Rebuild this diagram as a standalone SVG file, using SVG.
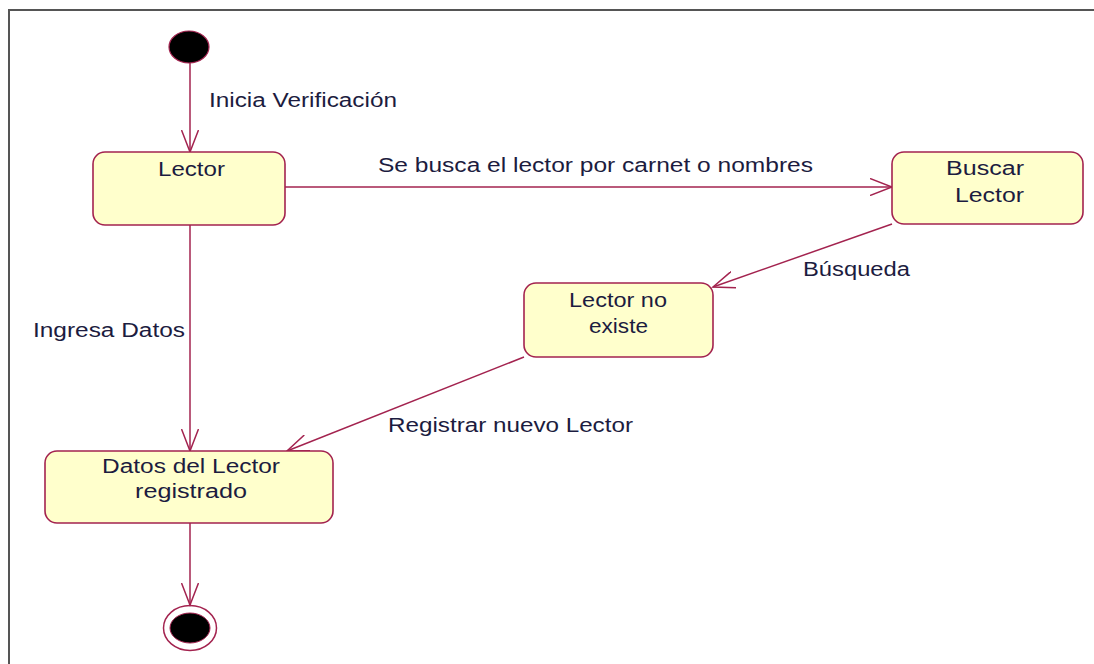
<svg xmlns="http://www.w3.org/2000/svg" width="1094" height="664" viewBox="0 0 1094 664">
<style>
.st{fill:#FFFFCC;stroke:#A3234F;stroke-width:1.6}
.t{font-family:"Liberation Sans",Arial,sans-serif;font-size:20px;fill:#1c1c40}
.c{fill:none;stroke:#A3234F;stroke-width:1.5;marker-end:url(#ar)}
</style>
<defs>
<marker id="ar" viewBox="0 0 24 18" refX="22" refY="9" markerWidth="24" markerHeight="18" markerUnits="userSpaceOnUse" orient="auto">
<path d="M0,0.5 L22,9 L0,17.5" fill="none" stroke="#A3234F" stroke-width="1.5"/>
</marker>
</defs>
<rect x="0" y="0" width="1094" height="664" fill="#ffffff"/>
<path d="M9,664 V10 H1094" fill="none" stroke="#555555" stroke-width="2"/>
<g id="connectors">
<line class="c" x1="190" y1="63" x2="190" y2="152"/>
<line class="c" x1="285" y1="187" x2="892" y2="187"/>
<line class="c" x1="892" y1="224" x2="713" y2="287"/>
<line class="c" x1="190" y1="225" x2="190" y2="451"/>
<line class="c" x1="524" y1="357" x2="287" y2="451"/>
<line class="c" x1="190" y1="523" x2="190" y2="605"/>
<text class="t" x="209" y="107" textLength="188" lengthAdjust="spacingAndGlyphs">Inicia Verificación</text>
<text class="t" x="378" y="172" textLength="435" lengthAdjust="spacingAndGlyphs">Se busca el lector por carnet o nombres</text>
<text class="t" x="803" y="276" textLength="107" lengthAdjust="spacingAndGlyphs">Búsqueda</text>
<text class="t" x="33" y="337" textLength="152" lengthAdjust="spacingAndGlyphs">Ingresa Datos</text>
<text class="t" x="388" y="432" textLength="245" lengthAdjust="spacingAndGlyphs">Registrar nuevo Lector</text>
</g>
<g id="initial">
<ellipse cx="189" cy="47" rx="20" ry="16" fill="#000000" stroke="#A3234F" stroke-width="1.2"/>
</g>
<g id="lector">
<rect class="st" x="93" y="152" width="192" height="73" rx="12" ry="12"/>
<text class="t" x="158" y="176" textLength="67" lengthAdjust="spacingAndGlyphs">Lector</text>
</g>
<g id="buscar">
<rect class="st" x="892" y="152" width="191" height="72" rx="12" ry="12"/>
<text class="t" x="946" y="175" textLength="78" lengthAdjust="spacingAndGlyphs">Buscar</text>
<text class="t" x="955" y="202" textLength="69" lengthAdjust="spacingAndGlyphs">Lector</text>
</g>
<g id="noexiste">
<rect class="st" x="524" y="283" width="189" height="74" rx="12" ry="12"/>
<text class="t" x="569" y="307" textLength="98" lengthAdjust="spacingAndGlyphs">Lector no</text>
<text class="t" x="589" y="333" textLength="59" lengthAdjust="spacingAndGlyphs">existe</text>
</g>
<g id="datos">
<rect class="st" x="45" y="451" width="288" height="72" rx="12" ry="12"/>
<text class="t" x="102" y="473" textLength="178" lengthAdjust="spacingAndGlyphs">Datos del Lector</text>
<text class="t" x="135" y="498" textLength="112" lengthAdjust="spacingAndGlyphs">registrado</text>
</g>
<g id="final">
<ellipse cx="190" cy="628" rx="26.5" ry="22.5" fill="none" stroke="#A3234F" stroke-width="1.5"/>
<ellipse cx="190" cy="628" rx="20" ry="15" fill="#000000" stroke="#A3234F" stroke-width="1"/>
</g>
</svg>
